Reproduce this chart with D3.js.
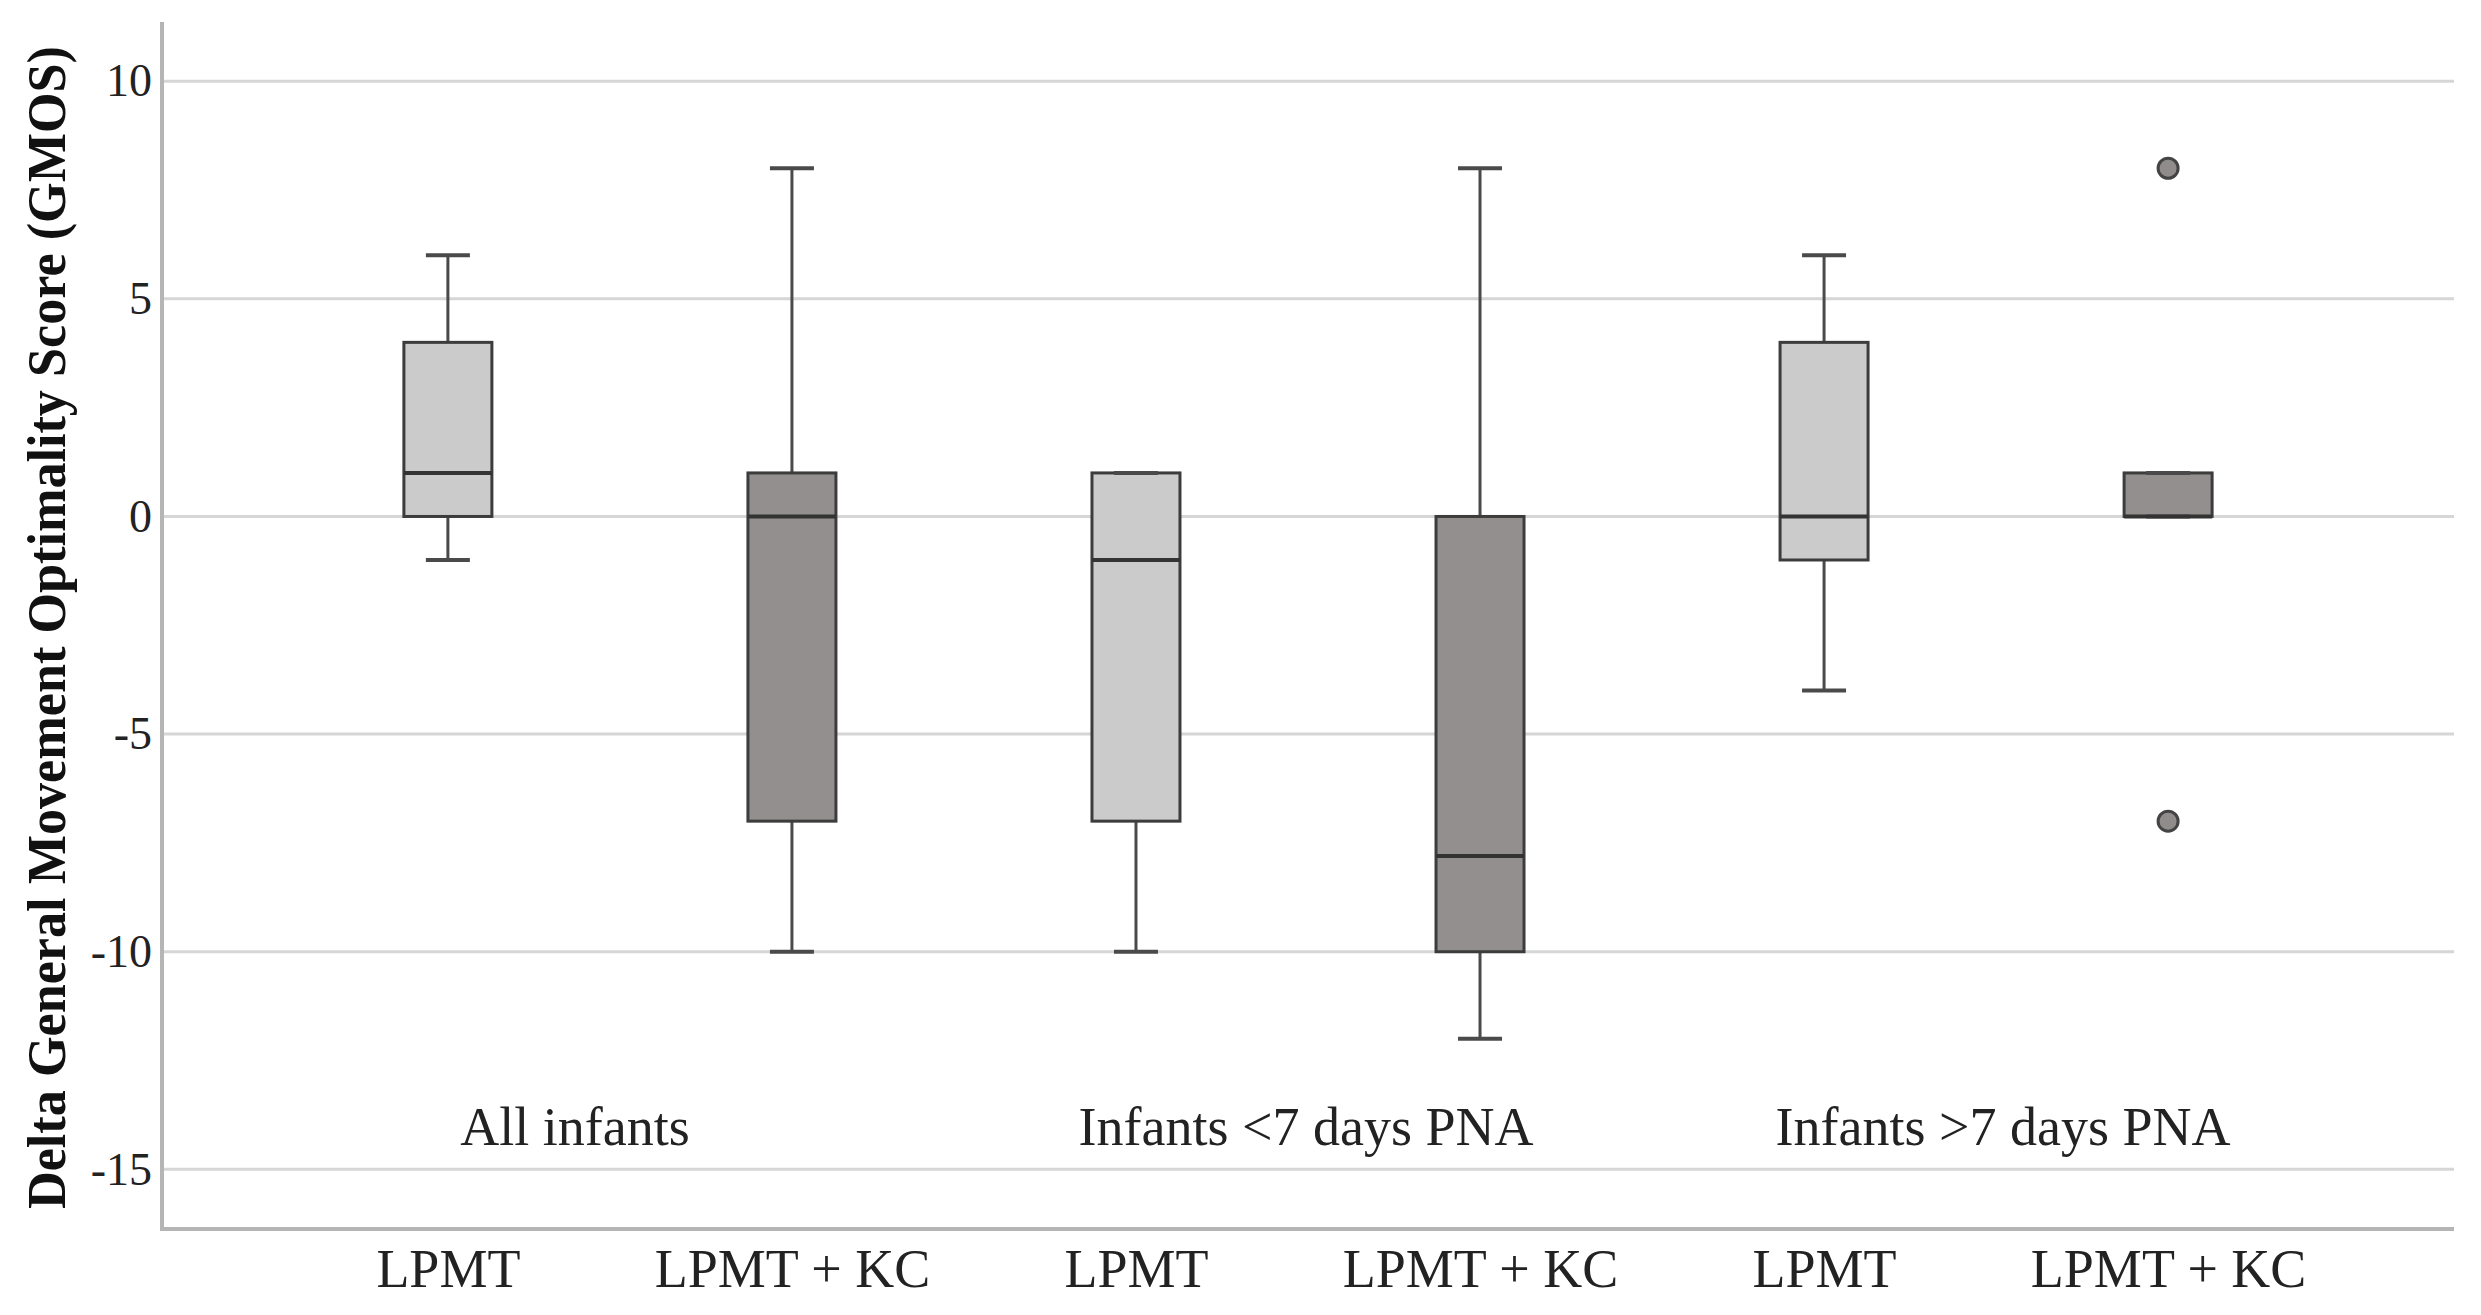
<!DOCTYPE html>
<html>
<head>
    <meta charset="utf-8">
    <title>Delta GMOS by group</title>
    <script src="https://cdn.jsdelivr.net/npm/d3@7"></script>
    <style>
        body {
            margin: 0;
            background: white;
        }
        .tick-label {
            font-family: "Liberation Serif", "Times New Roman", serif;
            fill: #222;
        }
    </style>
</head>
<body>
    <div id="chart"></div>

    <script>
        // Data
        const categories = ["LPMT", "LPMT + KC", "LPMT", "LPMT + KC", "LPMT", "LPMT + KC"];
        const groups = ["All infants", "Infants <7 days PNA", "Infants >7 days PNA"];
        const whiskerLow = [-1, -10, -10, -12, -4, 0];
        const q1 = [0, -7, -7, -10, -1, 0];
        const median = [1, 0, -1, -7.8, 0, 0];
        const q3 = [4, 1, 1, 0, 4, 1];
        const whiskerHigh = [6, 8, 1, 8, 6, 1];
        const outliers = [[], [], [], [], [], [8, -7]];
        const yTicks = [-15, -10, -5, 0, 5, 10];

        const W = 2481, H = 1315;
        const plot = {left: 162, right: 2454, top: 22, bottom: 1229};
        const boxWidth = 88;
        const light = "#cbcbcb", dark = "#938f8e";

        const svg = d3.select("#chart")
            .append("svg")
            .attr("width", W)
            .attr("height", H);

        const ids = categories.map((c, i) => i);

        const x = d3.scalePoint()
            .domain(ids)
            .range([plot.left, plot.right])
            .padding(0.831);

        const y = d3.scaleLinear()
            .domain([-16.37, 11.36])
            .range([plot.bottom, plot.top]);

        // Gridlines
        svg.append("g")
            .selectAll("line")
            .data(yTicks)
            .join("line")
            .attr("x1", plot.left)
            .attr("x2", plot.right)
            .attr("y1", d => y(d))
            .attr("y2", d => y(d))
            .attr("stroke", "#d6d6d6")
            .attr("stroke-width", 3);

        // Axis lines
        svg.append("line")
            .attr("x1", plot.left).attr("x2", plot.left)
            .attr("y1", plot.top).attr("y2", plot.bottom)
            .attr("stroke", "#b5b5b5").attr("stroke-width", 4);
        svg.append("line")
            .attr("x1", plot.left - 2).attr("x2", plot.right)
            .attr("y1", plot.bottom).attr("y2", plot.bottom)
            .attr("stroke", "#b5b5b5").attr("stroke-width", 4);

        // Y axis ticks (plain hyphen for negatives, as in the figure)
        const yAxis = svg.append("g")
            .attr("transform", `translate(${plot.left},0)`)
            .call(d3.axisLeft(y).tickValues(yTicks).tickSize(0).tickPadding(10)
                .tickFormat(d => String(d)));
        yAxis.select(".domain").remove();
        yAxis.selectAll("text")
            .attr("class", "tick-label")
            .style("font-size", "46px");

        // X axis ticks
        const xAxis = svg.append("g")
            .attr("transform", `translate(0,${plot.bottom})`)
            .call(d3.axisBottom(x).tickSize(0).tickFormat(i => categories[i]));
        xAxis.select(".domain").remove();
        xAxis.selectAll("text")
            .attr("class", "tick-label")
            .attr("y", 0)
            .attr("dy", 58)
            .style("font-size", "54px");

        // Y axis title
        svg.append("text")
            .attr("transform", `translate(65,${(plot.top + plot.bottom) / 2 + 2}) rotate(-90)`)
            .attr("text-anchor", "middle")
            .attr("textLength", 1163)
            .attr("lengthAdjust", "spacingAndGlyphs")
            .style("font-family", "'Liberation Serif', serif")
            .style("font-weight", "bold")
            .style("font-size", "54px")
            .style("fill", "#111")
            .text("Delta General Movement Optimality Score (GMOS)");

        // Group labels
        const groupNudge = [-45, -2, 7];
        svg.append("g")
            .selectAll("text")
            .data(groups)
            .join("text")
            .attr("class", "tick-label")
            .attr("x", (d, i) => (x(i * 2) + x(i * 2 + 1)) / 2 + groupNudge[i])
            .attr("y", 1145)
            .attr("text-anchor", "middle")
            .style("font-size", "54px")
            .text(d => d);

        // Boxes
        const stroke = "#3c3c3c";
        const boxes = svg.append("g")
            .selectAll("g")
            .data(ids)
            .join("g");

        // whiskers
        boxes.append("line")
            .attr("x1", i => x(i)).attr("x2", i => x(i))
            .attr("y1", i => y(whiskerHigh[i])).attr("y2", i => y(q3[i]))
            .attr("stroke", "#4a4a4a").attr("stroke-width", 3);
        boxes.append("line")
            .attr("x1", i => x(i)).attr("x2", i => x(i))
            .attr("y1", i => y(q1[i])).attr("y2", i => y(whiskerLow[i]))
            .attr("stroke", "#4a4a4a").attr("stroke-width", 3);

        boxes.append("rect")
            .attr("x", i => x(i) - boxWidth / 2)
            .attr("width", boxWidth)
            .attr("y", i => y(q3[i]))
            .attr("height", i => Math.max(0, y(q1[i]) - y(q3[i])))
            .attr("fill", i => i % 2 === 0 ? light : dark)
            .attr("stroke", stroke)
            .attr("stroke-width", 3);

        // caps
        [whiskerHigh, whiskerLow].forEach(arr => {
            boxes.append("line")
                .attr("x1", i => x(i) - boxWidth / 4)
                .attr("x2", i => x(i) + boxWidth / 4)
                .attr("y1", i => y(arr[i]))
                .attr("y2", i => y(arr[i]))
                .attr("stroke", "#4a4a4a")
                .attr("stroke-width", 4);
        });

        // medians
        boxes.append("line")
            .attr("x1", i => x(i) - boxWidth / 2)
            .attr("x2", i => x(i) + boxWidth / 2)
            .attr("y1", i => y(median[i]))
            .attr("y2", i => y(median[i]))
            .attr("stroke", "#333")
            .attr("stroke-width", 4);

        // outliers
        boxes.selectAll("circle")
            .data(i => outliers[i].map(v => ({i, v})))
            .join("circle")
            .attr("cx", d => x(d.i))
            .attr("cy", d => y(d.v))
            .attr("r", 10)
            .attr("fill", "#8f8c8b")
            .attr("stroke", "#444")
            .attr("stroke-width", 3);
    </script>
</body>
</html>
